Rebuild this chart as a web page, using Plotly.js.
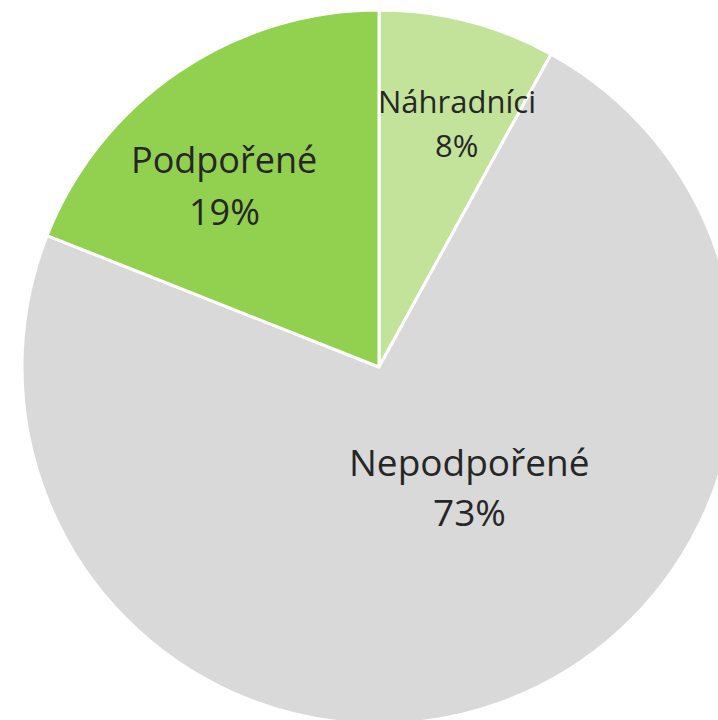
<!DOCTYPE html>
<html>
<head>
<meta charset="utf-8">
<script src="https://cdn.plot.ly/plotly-3.0.1.min.js"></script>
<style>
html,body{margin:0;padding:0;overflow:hidden;background:#fff;width:718px;height:720px;}
#chart{width:736px;height:724px;}
</style>
</head>
<body>
<div id="chart"></div>
<script>
var labels = ["Náhradníci", "Nepodpořené", "Podpořené"];
var values = [8, 73, 19];
var colors = ["#C3E39B", "#D9D9D9", "#92D050"];

// label placement (pixel centres) and font sizes
var labelPos = [[457, 101, 145], [469, 461, 512], [224, 159, 211]];
var labelSize = [31, 37, 36];

var L = 22, T = 10, S = 714;
function px2x(p){ return (p - L) / S; }
function py2y(p){ return (T + S - p) / S; }

var annotations = [];
labels.forEach(function(lab, i){
  var f = {family: "Open Sans, sans-serif", size: labelSize[i], color: "#262626"};
  annotations.push({text: lab, x: px2x(labelPos[i][0]), y: py2y(labelPos[i][1]), xref: "paper", yref: "paper", showarrow: false, font: f, xanchor: "center", yanchor: "middle"});
  annotations.push({text: values[i] + "%", x: px2x(labelPos[i][0]), y: py2y(labelPos[i][2]), xref: "paper", yref: "paper", showarrow: false, font: f, xanchor: "center", yanchor: "middle"});
});

var data = [{
  type: "pie",
  labels: labels,
  values: values,
  sort: false,
  direction: "clockwise",
  rotation: 0,
  textinfo: "none",
  hoverinfo: "none",
  marker: {colors: colors, line: {color: "#FFFFFF", width: 3}},
  domain: {x: [0, 1], y: [0, 1]}
}];

var layout = {
  width: L + S, height: T + S,
  margin: {l: L, r: 0, t: T, b: 0, pad: 0},
  showlegend: false,
  paper_bgcolor: "#FFFFFF",
  annotations: annotations
};

Plotly.newPlot("chart", data, layout, {staticPlot: true, displayModeBar: false});
</script>
</body>
</html>
